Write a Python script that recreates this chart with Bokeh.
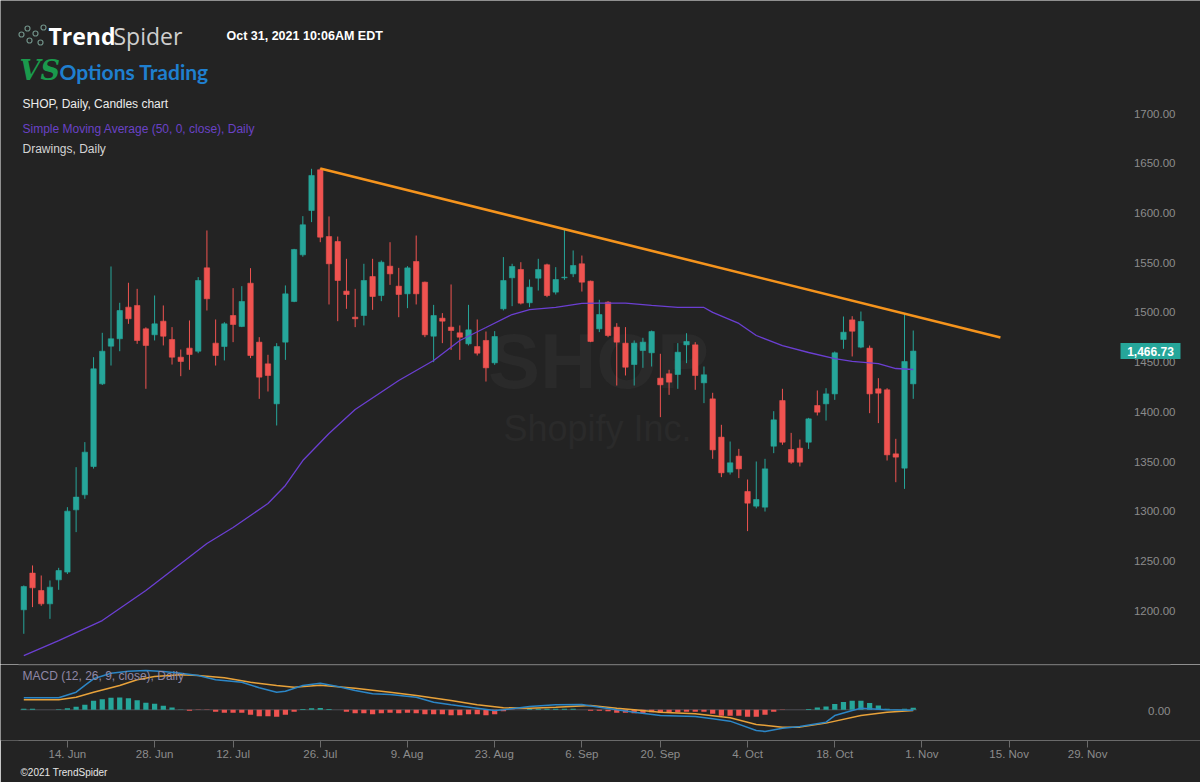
import pandas as pd
from bokeh.plotting import figure
from bokeh.layouts import column
from bokeh.models import (ColumnDataSource, FixedTicker, LinearAxis, Label, Range1d, Title)
from bokeh.core.properties import value
from bokeh.embed import file_html
from bokeh.resources import INLINE

# ---------------- data ----------------
holidays = ["2021-07-05", "2021-09-06"]
dates = [d for d in pd.bdate_range("2021-06-07", "2021-10-29")
         if d.strftime("%Y-%m-%d") not in holidays]

opens = [1206.6, 1243.5, 1226.0, 1212.6, 1236.7, 1244.5, 1307.1, 1322.2, 1350.7, 1433.8,
         1471.7, 1479.1, 1510.9, 1512.6, 1489.1, 1483.1, 1496.8, 1478.4, 1460.6, 1469.7,
         1466.6, 1550.4, 1474.7, 1471.3, 1502.5, 1491.5, 1535.0, 1475.7, 1453.9, 1413.7,
         1475.7, 1516.6, 1563.5, 1608.1, 1649.0, 1581.9, 1576.9, 1527.0, 1500.8, 1502.5,
         1541.7, 1522.6, 1552.1, 1532.0, 1524.3, 1556.8, 1536.0, 1481.7, 1499.8, 1490.8,
         1485.1, 1474.0, 1471.3, 1477.4, 1454.9, 1509.2, 1540.4, 1548.8, 1515.3, 1540.0,
         1553.5, 1526.0, 1540.4, 1544.4, 1554.5, 1537.0, 1489.1, 1515.9, 1490.8, 1474.7,
         1453.2, 1467.3, 1465.0, 1439.5, 1443.9, 1443.2, 1473.0, 1473.0, 1434.8, 1418.7,
         1380.2, 1345.0, 1361.1, 1325.6, 1310.8, 1309.8, 1371.1, 1417.0, 1367.8, 1369.1,
         1375.1, 1412.0, 1413.7, 1423.7, 1478.4, 1498.1, 1470.7, 1469.7, 1428.8, 1427.8,
         1363.4, 1349.0, 1433.8]
highs = [1231.1, 1251.2, 1241.1, 1236.1, 1248.8, 1309.8, 1350.0, 1375.2, 1460.6, 1485.1,
         1551.8, 1515.3, 1535.4, 1529.3, 1490.6, 1522.6, 1512.6, 1490.8, 1468.3, 1497.5,
         1541.1, 1588.0, 1498.5, 1495.8, 1530.0, 1532.0, 1550.1, 1480.7, 1463.0, 1474.7,
         1532.7, 1569.5, 1602.4, 1650.0, 1650.6, 1602.1, 1581.9, 1559.5, 1529.3, 1554.5,
         1559.5, 1557.8, 1576.2, 1550.4, 1552.1, 1582.9, 1536.6, 1513.2, 1504.9, 1533.7,
         1492.5, 1513.2, 1498.5, 1486.4, 1486.8, 1561.2, 1554.5, 1556.1, 1538.7, 1559.5,
         1554.6, 1551.1, 1589.6, 1567.9, 1562.8, 1537.6, 1518.3, 1516.9, 1494.8, 1490.8,
         1477.4, 1480.1, 1487.4, 1464.0, 1447.9, 1474.7, 1484.7, 1475.7, 1451.2, 1424.8,
         1392.6, 1375.8, 1368.4, 1337.6, 1355.7, 1358.4, 1406.3, 1428.8, 1384.5, 1377.8,
         1399.6, 1427.1, 1429.4, 1466.3, 1501.5, 1501.8, 1506.5, 1472.3, 1439.5, 1429.4,
         1378.5, 1504.2, 1487.4]
lows = [1182.5, 1209.3, 1210.6, 1197.5, 1226.7, 1242.6, 1284.7, 1318.2, 1348.6, 1432.6,
        1452.2, 1466.6, 1494.1, 1474.0, 1428.8, 1477.4, 1472.4, 1453.2, 1441.5, 1447.9,
        1464.6, 1507.5, 1452.2, 1457.3, 1475.7, 1490.8, 1459.6, 1418.7, 1426.1, 1391.9,
        1457.9, 1515.9, 1561.6, 1596.4, 1576.2, 1513.6, 1496.8, 1509.2, 1490.8, 1492.5,
        1508.2, 1516.9, 1533.3, 1500.8, 1509.9, 1513.6, 1480.7, 1455.6, 1474.7, 1468.0,
        1457.9, 1472.4, 1462.3, 1436.1, 1452.9, 1507.6, 1511.9, 1513.6, 1510.9, 1527.6,
        1520.9, 1523.6, 1538.4, 1541.1, 1526.6, 1475.7, 1485.8, 1480.7, 1432.1, 1442.2,
        1432.1, 1449.9, 1451.2, 1400.3, 1422.7, 1428.8, 1454.6, 1427.8, 1414.4, 1358.4,
        1340.0, 1342.6, 1339.0, 1285.7, 1308.6, 1305.4, 1364.1, 1372.5, 1353.4, 1350.7,
        1368.4, 1402.0, 1396.9, 1417.7, 1469.0, 1461.3, 1469.6, 1404.3, 1394.3, 1356.7,
        1334.9, 1328.2, 1418.7]
closes = [1230.0, 1228.7, 1212.6, 1229.4, 1246.1, 1305.8, 1319.9, 1365.1, 1448.9, 1466.6,
          1479.1, 1507.5, 1499.2, 1477.4, 1472.4, 1494.1, 1481.7, 1460.6, 1456.3, 1463.3,
          1537.7, 1519.3, 1462.3, 1494.1, 1493.5, 1516.6, 1462.3, 1440.5, 1442.2, 1471.3,
          1524.3, 1568.9, 1593.7, 1643.3, 1581.3, 1554.5, 1537.7, 1523.6, 1499.2, 1537.7,
          1521.6, 1556.1, 1544.4, 1523.6, 1550.4, 1524.3, 1483.1, 1502.5, 1496.8, 1487.4,
          1480.7, 1488.1, 1464.6, 1449.9, 1481.4, 1537.7, 1551.8, 1514.9, 1531.0, 1548.8,
          1522.6, 1538.7, 1541.1, 1552.8, 1536.0, 1476.4, 1503.5, 1482.4, 1475.7, 1450.5,
          1474.7, 1475.7, 1486.4, 1432.8, 1435.5, 1465.6, 1476.4, 1442.2, 1442.9, 1367.4,
          1344.3, 1354.4, 1348.3, 1313.8, 1317.5, 1348.3, 1397.6, 1375.1, 1355.0, 1355.0,
          1398.6, 1405.3, 1423.7, 1465.0, 1485.7, 1486.7, 1496.5, 1423.7, 1424.4, 1362.4,
          1360.1, 1456.3, 1466.73]

# 50-day simple moving average (trading-day index, value)
sma_idx = [0, 4, 9, 14, 21, 24, 28, 30, 32, 35, 38, 43, 47, 50, 53, 56, 58, 61, 64, 66,
           69, 72, 75, 78, 79, 82, 84, 87, 90, 93, 95, 98, 100, 102]
sma_val = [1160.6, 1175.7, 1195.8, 1226.0, 1273.3, 1289.3, 1313.5, 1331.6, 1356.7, 1383.9,
           1408.0, 1437.2, 1457.3, 1477.4, 1490.4, 1503.5, 1508.5, 1510.6, 1514.6, 1514.9,
           1514.9, 1512.6, 1510.6, 1510.6, 1505.6, 1494.5, 1482.4, 1472.3, 1465.3, 1459.2,
           1456.3, 1454.2, 1449.2, 1448.2]

# trend line drawing (trading-day index, price)
trend_idx = [34, 112]
trend_val = [1650.3, 1480.4]

# MACD (12, 26, 9)
macd_idx = [0, 4, 6, 7, 8, 10, 12, 14, 16, 18, 20, 22, 25, 27, 29, 30, 32, 34, 36, 38, 40,
            42, 45, 47, 49, 52, 54, 55, 58, 61, 64, 66, 68, 70, 73, 77, 79, 81, 84, 85, 87,
            89, 92, 93, 95, 96, 99, 102]
macd_val = [18.0, 18.0, 26.4, 36.5, 46.5, 54.9, 58.0, 59.0, 57.5, 54.9, 51.5, 45.0, 41.4,
            33.0, 26.4, 27.9, 36.5, 39.9, 35.0, 29.0, 24.0, 23.0, 18.9, 11.4, 7.5, 2.4, -1.0,
            0.0, 5.0, 7.5, 8.0, 3.9, 0.0, -3.6, -8.6, -10.0, -13.5, -17.0, -31.0, -32.5,
            -27.6, -25.0, -18.6, -8.6, -1.0, 2.4, 0.0, -0.7]
signal_idx = [0, 4, 6, 8, 11, 13, 15, 18, 20, 23, 26, 29, 31, 34, 38, 42, 45, 49, 52, 55,
              58, 61, 65, 68, 70, 73, 77, 81, 84, 87, 89, 92, 96, 99, 102]
signal_val = [15.0, 15.0, 18.9, 26.4, 36.5, 45.0, 50.0, 52.5, 51.5, 48.0, 41.4, 36.5, 33.9,
              37.0, 32.4, 26.4, 21.5, 14.0, 7.5, 3.0, 2.4, 3.9, 6.5, 2.4, 0.0, -3.6, -6.0,
              -12.0, -22.0, -26.0, -26.0, -20.0, -8.6, -3.6, -1.0]
hist_val = [1.5, 1.5, 0.15, 0.15, 1.0, 2.25, 4.5, 7.5, 13.5, 16.0,
            18.0, 18.5, 17.5, 14.5, 10.5, 9.0, 6.0, 3.5, 0.45, -1.5,
            -0.3, -0.3, -3.0, -4.5, -4.5, -4.5, -7.5, -9.5, -9.5, -10.5,
            -7.5, -3.0, 1.2, 2.25, 2.7, 1.2, 0.15, -3.0, -5.25, -5.25,
            -6.75, -5.25, -4.5, -5.25, -4.5, -5.25, -6.75, -6.75, -6.75, -8.25,
            -8.25, -6.75, -6.75, -8.25, -6.75, -2.25, -0.15, 0.15, 1.2, 1.5,
            1.5, 1.5, 1.5, 1.5, 0.15, -1.5, -1.5, -2.25, -4.5, -4.5,
            -5.25, -5.25, -3.75, -4.5, -4.5, -3.75, -3.0, -3.0, -3.0, -6.0,
            -9.0, -9.0, -9.0, -10.5, -10.5, -7.5, -3.0, -0.15, 0.15, 0.15,
            1.2, 3.45, 4.95, 8.55, 11.55, 13.5, 13.5, 10.05, 6.45, 1.5,
            0.3, 1.5, 3.0]

price_ticks = [1200, 1250, 1300, 1350, 1400, 1450, 1500, 1550, 1600, 1650, 1700]
macd_ticks = [0]
date_tick_idx = [5, 15, 24, 34, 44, 54, 64, 73, 83, 93, 103, 113, 122]
date_tick_labels = ["14. Jun", "28. Jun", "12. Jul", "26. Jul", "9. Aug", "23. Aug", "6. Sep",
                    "20. Sep", "4. Oct", "18. Oct", "1. Nov", "15. Nov", "29. Nov"]
last_price = closes[-1]

# ---------------- layout helpers (pixels -> data) ----------------
BG = "#232323"
UP = "#26a69a"
DOWN = "#ef5350"
AXT = "#8c8c8c"
FONT = "Liberation Sans"

W = 1200
X0, DX = 23.3, 8.72          # pixel of first candle, pixels per trading day
XS, XE = -X0 / DX, (W - X0) / DX
Y1200, KY = 615.87, 0.9946   # pixel of 1200 level, pixels per price unit
MAIN_H = 664
ZERO_PY, KM = 709.3, 1.5     # macd zero line pixel, macd units per pixel


def X(px):
    return (px - X0) / DX


def Y(py):
    return 1200 + (Y1200 - py) / KY


def YM(py):
    return (ZERO_PY - py) * KM


idx = list(range(len(dates)))

# ---------------- main price panel ----------------
p = figure(width=W, height=MAIN_H, x_range=Range1d(XS, XE), y_range=Range1d(Y(MAIN_H), Y(0)),
           output_backend="svg", toolbar_location=None, x_axis_location=None,
           y_axis_location=None, min_border=0, background_fill_color=BG,
           border_fill_color=BG, outline_line_color=None)
p.grid.visible = False

# watermark
p.add_layout(Label(x=X(598), y=Y(360), text="SHOP", text_align="center", text_baseline="middle",
                   text_font=FONT, text_font_size="78px", text_font_style="bold",
                   text_color="#2a2a2a", level="underlay"))
p.add_layout(Label(x=X(597), y=Y(428), text="Shopify Inc.", text_align="center",
                   text_baseline="middle", text_font=FONT, text_font_size="36px",
                   text_color="#2a2a2a", level="underlay"))

# price scale labels (drawn just above their level, right aligned, as in the original)
p.text(x=[X(1175)] * len(price_ticks), y=price_ticks, text=[f"{v:.2f}" for v in price_ticks],
       text_align="right", text_baseline="middle", y_offset=-5.5, text_color=AXT,
       text_font=value(FONT), text_font_size="11.5px")

colors = [UP if c >= o else DOWN for o, c in zip(opens, closes)]
src = ColumnDataSource(dict(x=idx, high=highs, low=lows,
                            top=[max(o, c) for o, c in zip(opens, closes)],
                            bottom=[min(o, c) for o, c in zip(opens, closes)],
                            color=colors))
p.segment(x0="x", y0="low", x1="x", y1="high", source=src, line_color="color", line_width=1)
p.vbar(x="x", width=0.62, top="top", bottom="bottom", source=src, fill_color="color",
       line_color="color", line_width=0.6)

p.line(sma_idx, sma_val, line_color="#6b3fd2", line_width=1.3)
p.line(trend_idx, trend_val, line_color="#f5941d", line_width=2.6)

# last price badge
p.rect(x=[X(1150)], y=[last_price], width=60, height=16, width_units="screen",
       height_units="screen", fill_color=UP, line_color=None)
p.text(x=[X(1150)], y=[last_price], text=[f"{last_price:,.2f}"], text_align="center",
       text_baseline="middle", text_color="white", text_font=value(FONT),
       text_font_size="12px", text_font_style="bold")

# header texts
p.scatter(x=[X(v) for v in (21, 27, 29, 35, 40, 43)], y=[Y(v) for v in (34, 28, 40, 33, 42, 27)],
          marker="circle", size=5, fill_color=None, line_color="#6f8f86", line_width=1.2)
p.add_layout(Label(x=X(48), y=Y(35), text="Trend", text_font="Open Sans", text_font_size="23px",
                   text_font_style="bold", text_color="#ffffff", text_baseline="middle"))
p.add_layout(Label(x=X(113), y=Y(35), text="Spider", text_font="Open Sans", text_font_size="23px",
                   text_color="#cfcfcf", text_baseline="middle"))
p.add_layout(Label(x=X(226), y=Y(35), text="Oct 31, 2021 10:06AM EDT", text_font=FONT,
                   text_font_size="12.5px", text_font_style="bold", text_color="#ffffff",
                   text_baseline="middle"))
p.add_layout(Label(x=X(19), y=Y(70), text="VS", text_font="DejaVu Serif", text_font_size="27px",
                   text_font_style="bold italic", text_color="#1a9a4c", text_baseline="middle"))
p.add_layout(Label(x=X(59), y=Y(71), text="Options Trading", text_font="Lato",
                   text_font_size="21px", text_font_style="bold", text_color="#1f7fcf",
                   text_baseline="middle"))
p.add_layout(Label(x=X(22), y=Y(103), text="SHOP, Daily, Candles chart", text_font=FONT,
                   text_font_size="12px", text_color="#ececec", text_baseline="middle"))
p.add_layout(Label(x=X(22), y=Y(128), text="Simple Moving Average (50, 0, close), Daily",
                   text_font=FONT, text_font_size="12px", text_color="#6a42c6",
                   text_baseline="middle"))
p.add_layout(Label(x=X(22), y=Y(148), text="Drawings, Daily", text_font=FONT,
                   text_font_size="12px", text_color="#d4d4d4", text_baseline="middle"))

# ---------------- MACD panel ----------------
MH = 118
p2 = figure(width=W, height=MH, x_range=p.x_range, y_range=Range1d(YM(740), YM(MAIN_H)),
            output_backend="svg", toolbar_location=None, x_axis_location=None,
            y_axis_location=None, min_border_left=0, min_border_top=0, min_border_right=0,
            min_border_bottom=42, background_fill_color=BG, border_fill_color=BG,
            outline_line_color=None)
p2.grid.visible = False

xa = LinearAxis(ticker=FixedTicker(ticks=date_tick_idx),
                major_label_overrides={k: v for k, v in zip(date_tick_idx, date_tick_labels)},
                bounds=(X(18), X(1170)), axis_line_color="#6a6a6a",
                major_tick_line_color="#6a6a6a", major_tick_in=0, major_tick_out=7,
                minor_tick_line_color=None, major_label_text_color=AXT,
                major_label_text_font_size="11.5px", major_label_text_font=FONT,
                major_label_standoff=0)
p2.add_layout(xa, "below")
p2.add_layout(Title(text="\u00a92021 TrendSpider", align="left", offset=20, standoff=4,
                    text_font=FONT, text_font_size="10px", text_font_style="normal",
                    text_color="#e6e6e6"), "below")

# panel separator and zero line
p2.segment(x0=[X(18)], y0=[YM(664.5)], x1=[X(1170)], y1=[YM(664.5)], line_color="#3d3d3d",
           line_width=1.5)
p2.segment(x0=[idx[0] - 0.4], y0=[0], x1=[idx[-1] + 0.4], y1=[0], line_color="#4d4d55",
           line_width=1)

p2.text(x=[X(1170)] * len(macd_ticks), y=macd_ticks, text=[f"{v:.2f}" for v in macd_ticks],
        text_align="right", text_baseline="middle", y_offset=1.5, text_color=AXT,
        text_font=value(FONT), text_font_size="11.5px")

hsrc = ColumnDataSource(dict(x=idx, top=hist_val,
                             color=[UP if v >= 0 else DOWN for v in hist_val]))
p2.vbar(x="x", width=0.6, top="top", bottom=0, source=hsrc, fill_color="color", line_color=None)
p2.line(signal_idx, signal_val, line_color="#e8a23a", line_width=1.5)
p2.line(macd_idx, macd_val, line_color="#2c86c6", line_width=1.5)

p2.add_layout(Label(x=X(22), y=YM(675), text="MACD (12, 26, 9, close), Daily", text_font=FONT,
                    text_font_size="12px", text_color="#8f87a6", text_baseline="middle"))

layout = column(p, p2, spacing=0)
open("out.html", "w").write(file_html(layout, INLINE))
